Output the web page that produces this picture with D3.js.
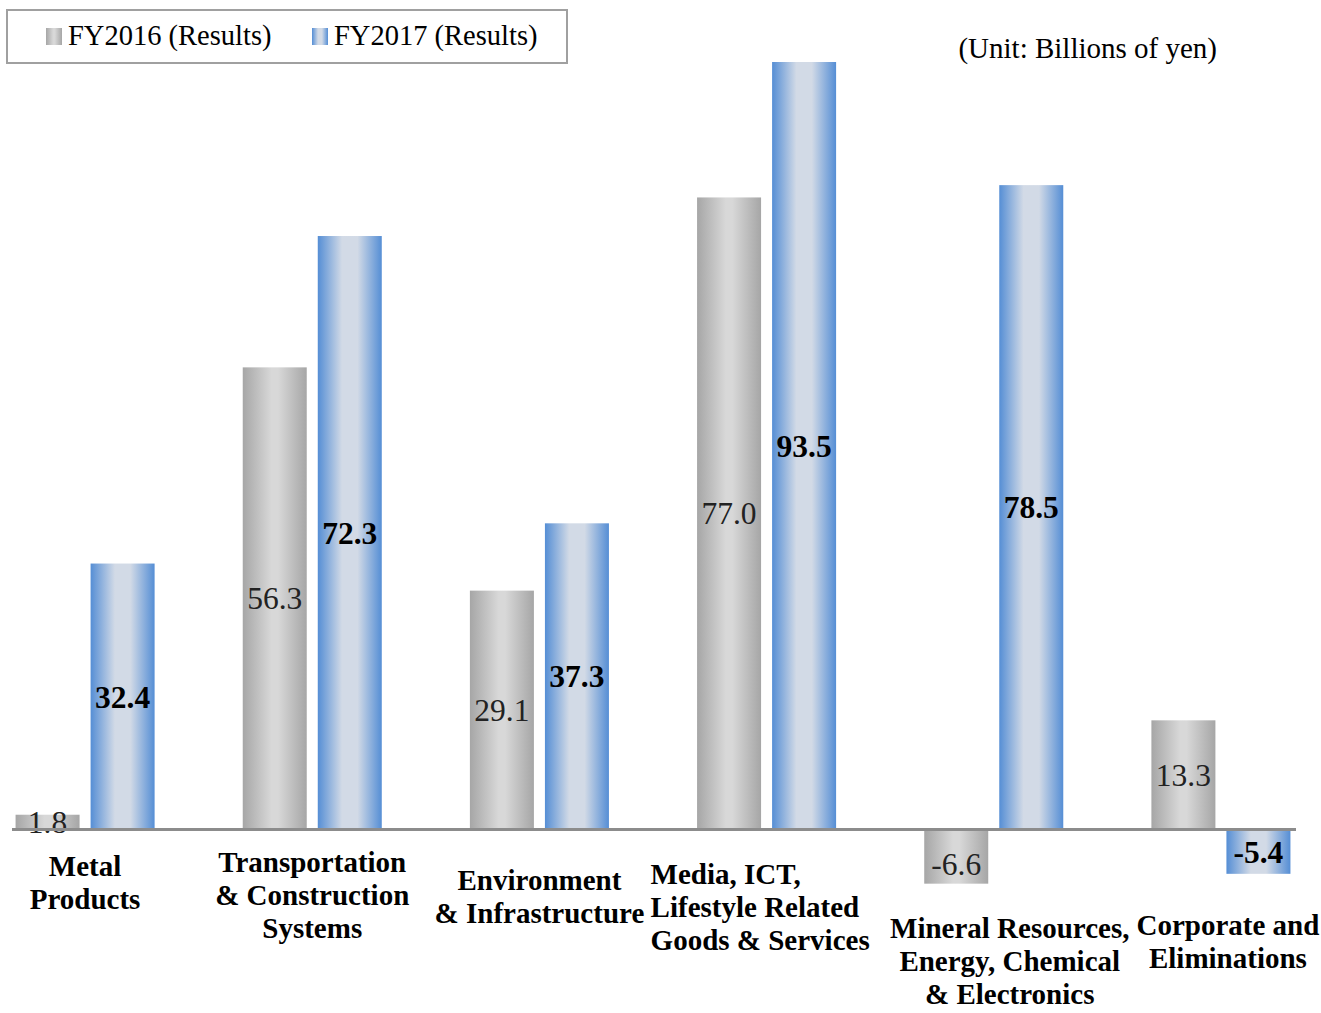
<!DOCTYPE html>
<html>
<head>
<meta charset="utf-8">
<script src="https://cdn.jsdelivr.net/npm/d3@7"></script>
<style>
  body { margin: 0; background: #fff; }
  svg { display: block; font-family: "Liberation Serif", "Times New Roman", serif; }
</style>
</head>
<body>
<svg class="chart" width="1321" height="1013"></svg>
<script>
// data
var categories = ["Metal Products", "Transportation & Construction Systems", "Environment & Infrastructure",
  "Media, ICT, Lifestyle Related Goods & Services", "Mineral Resources, Energy, Chemical & Electronics",
  "Corporate and Eliminations"];
var categoryLines = [
  ["Metal", "Products"],
  ["Transportation", "& Construction", "Systems"],
  ["Environment", "& Infrastructure"],
  ["Media, ICT,", "Lifestyle Related", "Goods & Services"],
  ["Mineral Resources,", "Energy, Chemical", "& Electronics"],
  ["Corporate and", "Eliminations"]
];
var seriesNames = ["FY2016 (Results)", "FY2017 (Results)"];
var fy2016 = [1.8, 56.3, 29.1, 77.0, -6.6, 13.3];
var fy2017 = [32.4, 72.3, 37.3, 93.5, 78.5, -5.4];
var unitLabel = "(Unit: Billions of yen)";

var svg = d3.select(".chart");
var fmt = d3.formatLocale({ decimal: ".", thousands: ",", grouping: [3], currency: ["", ""], minus: "-" }).format(".1f");

// gradients for the bars
var defs = svg.append("defs");
function grad(id, stops) {
  var g = defs.append("linearGradient").attr("id", id)
    .attr("x1", "0").attr("x2", "1").attr("y1", "0").attr("y2", "0");
  stops.forEach(function(s) {
    g.append("stop").attr("offset", s[0]).attr("stop-color", s[1]);
  });
}
grad("g2016", [["0%", "#a6a6a6"], ["45%", "#d8d8d8"], ["55%", "#d8d8d8"], ["100%", "#a6a6a6"]]);
grad("g2017", [["0%", "#558ed5"], ["38%", "#d2dae6"], ["62%", "#d2dae6"], ["100%", "#558ed5"]]);
var fills = ["url(#g2016)", "url(#g2017)"];

var x0 = d3.scaleBand()
  .domain(categories)
  .range([-28.5, 1334.5])
  .paddingInner(0.388)
  .paddingOuter(0.194);

var x1 = d3.scaleBand()
  .domain(seriesNames)
  .range([0, x0.bandwidth()])
  .paddingInner(0.147);

var y = d3.scaleLinear()
  .domain([0, 93.5])
  .range([829.5, 62]);

var rows = categories.map(function(c, i) {
  return { cat: c, vals: [fy2016[i], fy2017[i]] };
});

var groups = svg.selectAll(".grp")
  .data(rows)
  .enter().append("g")
  .attr("class", "grp")
  .attr("transform", function(d) { return "translate(" + x0(d.cat) + ",0)"; });

groups.selectAll("rect")
  .data(function(d) { return d.vals.map(function(v, k) { return { k: k, v: v }; }); })
  .enter().append("rect")
  .attr("x", function(d) { return x1(seriesNames[d.k]); })
  .attr("y", function(d) { return Math.min(y(d.v), y(0)); })
  .attr("width", x1.bandwidth())
  .attr("height", function(d) { return Math.abs(y(0) - y(d.v)); })
  .attr("fill", function(d) { return fills[d.k]; });

// value labels, centred in the bar
groups.selectAll("text.val")
  .data(function(d) { return d.vals.map(function(v, k) { return { k: k, v: v }; }); })
  .enter().append("text")
  .attr("class", "val")
  .attr("x", function(d) { return x1(seriesNames[d.k]) + x1.bandwidth() / 2; })
  .attr("y", function(d) { return (y(d.v) + y(0)) / 2 + (d.k === 0 && d.v < 0 ? 7 : 0); })
  .attr("dy", "0.35em")
  .attr("text-anchor", "middle")
  .style("font-size", "31.5px")
  .style("font-weight", function(d) { return d.k === 1 ? "bold" : "normal"; })
  .style("fill", function(d) { return d.k === 1 ? "#000" : "#222"; })
  .text(function(d) { return fmt(d.v); });

// axis line at zero
svg.append("line")
  .attr("x1", 12).attr("x2", 1296)
  .attr("y1", y(0)).attr("y2", y(0))
  .attr("stroke", "#8c8c8c")
  .attr("stroke-width", 3);

// category labels (placement nudged like the original)
var labelPlace = [
  { dx: 0, anchor: "middle", top: 866 },
  { dx: 0, anchor: "middle", top: 862 },
  { dx: 0, anchor: "middle", top: 880 },
  { dx: -116, anchor: "start", top: 874 },
  { dx: 16, anchor: "middle", top: 928 },
  { dx: 7, anchor: "middle", top: 925 }
];
categories.forEach(function(c, i) {
  var cx = x0(c) + x0.bandwidth() / 2 + labelPlace[i].dx;
  var t = svg.append("text")
    .attr("text-anchor", labelPlace[i].anchor)
    .style("font-size", "29px")
    .style("font-weight", "bold");
  categoryLines[i].forEach(function(line, j) {
    t.append("tspan")
      .attr("x", cx)
      .attr("y", labelPlace[i].top + j * 33)
      .attr("dy", "0.35em")
      .text(line);
  });
});

// legend
var legend = svg.append("g");
legend.append("rect")
  .attr("x", 7).attr("y", 10).attr("width", 560).attr("height", 53)
  .attr("fill", "#fff").attr("stroke", "#a0a0a0").attr("stroke-width", 2);
var legX = [46, 312];
seriesNames.forEach(function(s, k) {
  legend.append("rect")
    .attr("x", legX[k]).attr("y", 28).attr("width", 16).attr("height", 17)
    .attr("fill", fills[k]);
  legend.append("text")
    .attr("x", legX[k] + 22).attr("y", 35).attr("dy", "0.35em")
    .style("font-size", "28.5px")
    .text(s);
});

svg.append("text")
  .attr("x", 1217).attr("y", 48).attr("dy", "0.35em")
  .attr("text-anchor", "end")
  .style("font-size", "29px")
  .text(unitLabel);
</script>
</body>
</html>
